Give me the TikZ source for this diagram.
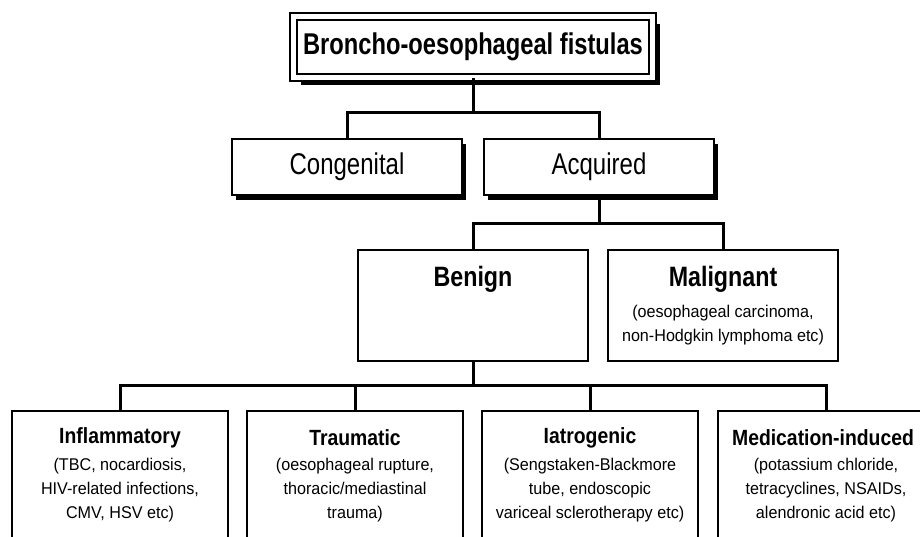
\documentclass[tikz,border=0pt]{standalone}
\usepackage{fontspec}
\setmainfont{Liberation Sans}
\usetikzlibrary{shadows}

\tikzset{
	box/.style={shape=rectangle, draw, fill=white, line width=1.8pt, inner sep=0pt},
	shadowbox/.style={box, drop shadow={shadow xshift=3.5pt, shadow yshift=-4.5pt, fill=black, opacity=1}},
	wire/.style={line width=3pt},
	titletext/.style={font=\fontsize{30}{34}\selectfont\bfseries, xscale=0.79, transform shape},
	midtext/.style={font=\fontsize{30}{34}\selectfont, xscale=0.8, transform shape},
	headtext/.style={font=\fontsize{28}{32}\selectfont\bfseries, xscale=0.83, transform shape},
	lowhead/.style={font=\fontsize{22}{26}\selectfont\bfseries, xscale=0.88, transform shape},
	subtext/.style={font=\fontsize{17}{24}\selectfont, align=center, xscale=0.95, transform shape}
}

\begin{document}
\begin{tikzpicture}[x=1pt, y=-1pt]
	\useasboundingbox (0,0) rectangle (920,536);
	\clip (0,0) rectangle (920,536);
	% Boxes and labels:
	\node[box, double, double distance=4.6pt, line width=1.8pt, minimum width=359pt, minimum height=61pt, drop shadow={shadow xshift=7pt, shadow yshift=-7.5pt, fill=black, opacity=1}] (fistulas) at (473,47) {};
	\node[titletext] (fistulastext) at (473,47) {Broncho-oesophageal fistulas};
	\node[shadowbox, minimum width=230pt, minimum height=56pt] (congenital) at (347,167) {};
	\node[midtext] (congenitaltext) at (347,167) {Congenital};
	\node[shadowbox, minimum width=230pt, minimum height=56pt] (acquired) at (599,167) {};
	\node[midtext] (acquiredtext) at (599,167) {Acquired};
	\node[box, minimum width=230pt, minimum height=111pt] (benign) at (473,305.5) {};
	\node[headtext] (benignhead) at (473,279) {Benign};
	\node[box, minimum width=230pt, minimum height=111pt] (malignant) at (723,305.5) {};
	\node[headtext] (malignanthead) at (723,279) {Malignant};
	\node[subtext] (malignantsub) at (723,325) {(oesophageal carcinoma,\\non-Hodgkin lymphoma etc)};
	\node[box, minimum width=216pt, minimum height=160pt] (inflammatory) at (120,491) {};
	\node[lowhead] (inflammatoryhead) at (120,438) {Inflammatory};
	\node[subtext] (inflammatorysub) at (120,490) {(TBC, nocardiosis,\\HIV-related infections,\\CMV, HSV etc)};
	\node[box, minimum width=216pt, minimum height=160pt] (traumatic) at (355,491) {};
	\node[lowhead] (traumatichead) at (355,438) {Traumatic};
	\node[subtext] (traumaticsub) at (355,490) {(oesophageal rupture,\\thoracic/mediastinal\\trauma)};
	\node[box, minimum width=216pt, minimum height=160pt] (iatrogenic) at (590,491) {};
	\node[lowhead] (iatrogenichead) at (590,438) {Iatrogenic};
	\node[subtext] (iatrogenicsub) at (590,490) {(Sengstaken-Blackmore\\tube, endoscopic\\variceal sclerotherapy etc)};
	\node[box, minimum width=216pt, minimum height=160pt] (medication) at (826,491) {};
	\node[lowhead] (medicationhead) at (823,438) {Medication-induced};
	\node[subtext] (medicationsub) at (826,490) {(potassium chloride,\\tetracyclines, NSAIDs,\\alendronic acid etc)};
	% Wires:
	\coordinate (bar1) at (473,112);
	\coordinate (bar2) at (599,223);
	\coordinate (bar3) at (473,385);
	\draw[wire] (fistulas.south) -- (bar1);
	\draw[wire] (bar1) -| (congenital.north);
	\draw[wire] (bar1) -| (acquired.north);
	\draw[wire] (acquired.south) -- (bar2);
	\draw[wire] (bar2) -| (benign.north);
	\draw[wire] (bar2) -| (malignant.north);
	\draw[wire] (benign.south) -- (bar3);
	\draw[wire] (bar3) -| (inflammatory.north);
	\draw[wire] (bar3) -| (traumatic.north);
	\draw[wire] (bar3) -| (iatrogenic.north);
	\draw[wire] (bar3) -| (medication.north);
\end{tikzpicture}
\end{document}
